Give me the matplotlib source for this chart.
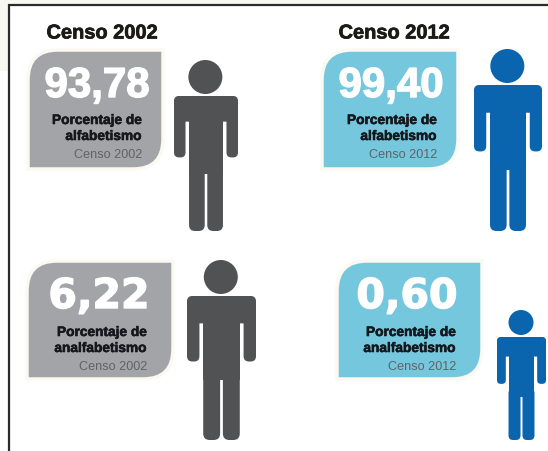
import matplotlib
matplotlib.use("Agg")
import matplotlib.pyplot as plt
import matplotlib.patheffects as pe
from matplotlib.patches import Circle, FancyBboxPatch, PathPatch, Rectangle
from matplotlib.path import Path

# Census literacy figures
census_years = ["2002", "2012", "2002", "2012"]
value_labels = ["93,78", "99,40", "6,22", "0,60"]
indicator_labels = ["alfabetismo", "alfabetismo", "analfabetismo", "analfabetismo"]
header_years = ["2002", "2012"]

GREY_BOX = "#a3a4a7"
BLUE_BOX = "#74c7dc"
GREY_MAN = "#515254"
BLUE_MAN = "#0b64ae"
ARIAL = ["Liberation Sans", "DejaVu Sans"]
WIDE = ["DejaVu Sans"]

# Layout per panel, in pixels
boxes = [(28, 51, 163, 170), (322, 51, 458, 170), (27, 262, 173, 380), (337, 262, 482, 380)]
box_colors = [GREY_BOX, BLUE_BOX, GREY_BOX, BLUE_BOX]
man_colors = [GREY_MAN, BLUE_MAN, GREY_MAN, BLUE_MAN]
# left, right, shoulder top, feet, head radius
men = [(174, 238, 97, 232, 17), (474, 542, 86, 232, 17),
       (187, 256, 297, 441, 17), (497, 546, 338, 441, 12.5)]
value_pos = [(97, 87), (391, 87), (99, 298), (407, 298)]
value_fonts = [ARIAL, ARIAL, WIDE, WIDE]
value_px = [42, 42, 41, 41]
text_right = [142, 437, 147, 456]
text_rows = [(121, 137, 155), (121, 137, 155), (333, 349, 367), (333, 349, 367)]
header_pos = [(102, 34), (394, 34)]


def px(size):
    return size * 72 / 100


def draw_box(ax, x0, y0, x1, y1, color, r=30):
    # only the top-left and bottom-right corners are rounded
    verts = [(x0 + r, y0), (x1, y0), (x1, y1 - r), (x1, y1), (x1 - r, y1),
             (x0, y1), (x0, y0 + r), (x0, y0), (x0 + r, y0)]
    codes = [Path.MOVETO, Path.LINETO, Path.LINETO, Path.CURVE3, Path.CURVE3,
             Path.LINETO, Path.LINETO, Path.CURVE3, Path.CURVE3]
    ax.add_patch(PathPatch(Path(verts, codes), facecolor=color, edgecolor="#fbf9f2", lw=2.5))


def rounded(ax, x0, y0, x1, y1, color, r):
    ax.add_patch(FancyBboxPatch((x0, y0), x1 - x0, y1 - y0, mutation_aspect=1,
                                boxstyle=f"round,pad=0,rounding_size={r}",
                                facecolor=color, edgecolor="none"))


def draw_man(ax, left, right, top, feet, head_r, color):
    w = right - left
    h = feet - top
    scale = w / 64
    rounded(ax, left, top, right, top + 0.19 * h, color, 7 * scale)
    rounded(ax, left, top, left + 0.18 * w, top + 0.455 * h, color, 5 * scale)
    rounded(ax, left + 0.82 * w, top, right, top + 0.455 * h, color, 5 * scale)
    ax.add_patch(Rectangle((left + 0.235 * w, top + 0.05 * h), 0.53 * w, 0.53 * h,
                           facecolor=color, edgecolor="none"))
    rounded(ax, left + 0.235 * w, top + 0.5 * h, left + 0.48 * w, feet, color, 6 * scale)
    rounded(ax, left + 0.52 * w, top + 0.5 * h, left + 0.765 * w, feet, color, 6 * scale)
    ax.add_patch(Circle((left + 0.49 * w, top - 2 - head_r), head_r, facecolor=color,
                        edgecolor="none"))


def heavy(width, color):
    return [pe.withStroke(linewidth=width, foreground=color)]


fig = plt.figure(figsize=(5.48, 4.52), dpi=100, facecolor="white")
ax = fig.add_axes([0, 0, 1, 1])
ax.set_xlim(0, 548)
ax.set_ylim(452, 0)
ax.axis("off")

# pale strip behind the frame and the dark frame itself
ax.add_patch(Rectangle((0, 0), 9, 72, facecolor="#f8f8f3", edgecolor="none"))
ax.add_patch(Rectangle((0, 0), 548, 5, facecolor="#f8f8f3", edgecolor="none"))
ax.plot([9, 9, 548], [452, 6, 6], color="#2b2b2b", lw=1.6, solid_joinstyle="miter")

for year, (x, y) in zip(header_years, header_pos):
    ax.text(x, y, f"Censo {year}", family=ARIAL, fontweight="bold", fontsize=px(20),
            color="#1c1a17", ha="center", va="center", path_effects=heavy(0.5, "#1c1a17"))

for i, value in enumerate(value_labels):
    draw_box(ax, *boxes[i], box_colors[i])
    draw_man(ax, *men[i], man_colors[i])
    ax.text(*value_pos[i], value, family=value_fonts[i], fontweight="bold",
            fontsize=px(value_px[i]), color="white", ha="center", va="center",
            path_effects=heavy(1.0, "white"))
    rows = text_rows[i]
    ax.text(text_right[i], rows[0], "Porcentaje de", family=ARIAL, fontweight="bold",
            fontsize=px(13.7), color="#14181c", ha="right", va="center",
            path_effects=heavy(0.4, "#14181c"))
    ax.text(text_right[i], rows[1], indicator_labels[i], family=ARIAL, fontweight="bold",
            fontsize=px(13.7), color="#14181c", ha="right", va="center",
            path_effects=heavy(0.4, "#14181c"))
    ax.text(text_right[i], rows[2], f"Censo {census_years[i]}", family=ARIAL,
            fontsize=px(12.6), color="#5d6468", ha="right", va="center")

fig.savefig("out.png", dpi=100)
